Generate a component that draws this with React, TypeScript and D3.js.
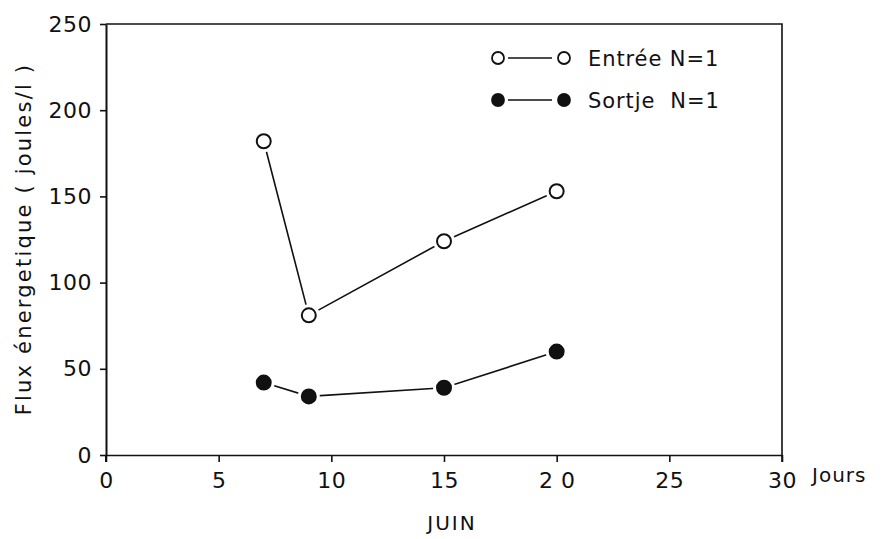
import React, { useEffect, useRef } from 'react';
import * as d3 from 'd3';

// Jours (juin)
const days = [7, 9, 15, 20];
// Flux énergétique (joules/l)
const entree = [182, 81, 124, 153];
const sortie = [42, 34, 39, 60];

const xTicks = [0, 5, 10, 15, 20, 25, 30];
const xTickLabels = ['0', '5', '10', '15', '2 0', '25', '30'];
const yTicks = [0, 50, 100, 150, 200, 250];

const legendItems = [
  { label: 'Entrée N=1', filled: false },
  { label: 'Sortje  N=1', filled: true },
];

export default function App() {
  const svgRef = useRef<SVGSVGElement>(null);
  const width = 882;
  const height = 539;
  const margin = { top: 24, right: 100, bottom: 84, left: 106 };

  useEffect(() => {
    if (!svgRef.current) return;
    const svg = d3.select(svgRef.current);
    svg.selectAll('*').remove();

    const innerWidth = width - margin.left - margin.right;
    const innerHeight = height - margin.top - margin.bottom;
    const font = '"DejaVu Sans", Verdana, sans-serif';

    const g = svg.append('g').attr('transform', `translate(${margin.left}, ${margin.top})`);

    const xScale = d3.scaleLinear().domain([0, 30]).range([0, innerWidth]);
    const yScale = d3.scaleLinear().domain([0, 250]).range([innerHeight, 0]);

    // frame (top + right)
    g.append('path')
      .attr('d', `M0,0H${innerWidth}V${innerHeight + 7}`)
      .attr('fill', 'none')
      .attr('stroke', '#111')
      .attr('stroke-width', 1.6);

    // X axis
    const xAxis = g.append('g')
      .attr('transform', `translate(0, ${innerHeight})`)
      .call(d3.axisBottom(xScale).tickValues(xTicks).tickSize(7).tickSizeOuter(0)
        .tickFormat((d, i) => xTickLabels[i]));
    xAxis.select('.domain').attr('stroke', '#111').attr('stroke-width', 1.6);
    xAxis.selectAll('.tick line').attr('stroke', '#111').attr('stroke-width', 1.6);
    xAxis.selectAll('text')
      .attr('y', 17)
      .attr('fill', '#111')
      .style('font-family', font)
      .style('font-size', '22px')
      .style('letter-spacing', '0.5px');

    // Y axis
    const yAxis = g.append('g')
      .call(d3.axisLeft(yScale).tickValues(yTicks).tickSize(6).tickSizeOuter(0));
    yAxis.select('.domain').attr('stroke', '#111').attr('stroke-width', 2);
    yAxis.selectAll('.tick line').attr('stroke', '#111').attr('stroke-width', 1.6);
    yAxis.selectAll('text')
      .attr('x', -14)
      .attr('fill', '#111')
      .style('font-family', font)
      .style('font-size', '22px')
      .style('letter-spacing', '0.5px');
    // small extension of the left axis below zero
    g.append('line')
      .attr('x1', 0).attr('x2', 0)
      .attr('y1', innerHeight).attr('y2', innerHeight + 7)
      .attr('stroke', '#111').attr('stroke-width', 2);

    // axis titles
    svg.append('text')
      .attr('transform', `translate(31, 239) rotate(-90)`)
      .attr('text-anchor', 'middle')
      .attr('fill', '#111')
      .style('font-family', font)
      .style('font-size', '21px')
      .style('letter-spacing', '2.2px')
      .text('Flux énergetique ( joules/l )');

    svg.append('text')
      .attr('x', 812)
      .attr('y', margin.top + innerHeight + 27)
      .attr('fill', '#111')
      .style('font-family', font)
      .style('font-size', '20px')
      .style('letter-spacing', '1px')
      .text('Jours');

    svg.append('text')
      .attr('x', 452)
      .attr('y', 530)
      .attr('text-anchor', 'middle')
      .attr('fill', '#111')
      .style('font-family', font)
      .style('font-size', '20px')
      .style('letter-spacing', '2px')
      .text('JUIN');

    const line = d3.line<number>()
      .x((d, i) => xScale(days[i]))
      .y(d => yScale(d));

    const drawSeries = (values: number[], filled: boolean) => {
      g.append('path')
        .datum(values)
        .attr('fill', 'none')
        .attr('stroke', '#111')
        .attr('stroke-width', 1.6)
        .attr('d', line);
      // white halo to leave small gaps between line and marker
      g.selectAll(null)
        .data(values)
        .enter().append('circle')
        .attr('cx', (d, i) => xScale(days[i]))
        .attr('cy', d => yScale(d))
        .attr('r', 11)
        .attr('fill', '#fff');
      g.selectAll(null)
        .data(values)
        .enter().append('circle')
        .attr('cx', (d, i) => xScale(days[i]))
        .attr('cy', d => yScale(d))
        .attr('r', 7)
        .attr('fill', filled ? '#111' : '#fff')
        .attr('stroke', '#111')
        .attr('stroke-width', 2);
    };

    drawSeries(entree, false);
    drawSeries(sortie, true);

    // legend
    const legend = svg.append('g').attr('transform', 'translate(498, 58)');
    const rows = legend.selectAll('g')
      .data(legendItems)
      .enter().append('g')
      .attr('transform', (d, i) => `translate(0, ${i * 42})`);
    rows.append('line')
      .attr('x1', 10).attr('x2', 54)
      .attr('y1', 0).attr('y2', 0)
      .attr('stroke', '#111').attr('stroke-width', 1.6);
    rows.append('circle')
      .attr('cx', 0).attr('cy', 0).attr('r', 6)
      .attr('fill', d => (d.filled ? '#111' : '#fff'))
      .attr('stroke', '#111').attr('stroke-width', 1.8);
    rows.append('circle')
      .attr('cx', 66).attr('cy', 0).attr('r', 6)
      .attr('fill', d => (d.filled ? '#111' : '#fff'))
      .attr('stroke', '#111').attr('stroke-width', 1.8);
    rows.append('text')
      .attr('x', 90)
      .attr('y', 8)
      .attr('fill', '#111')
      .style('font-family', font)
      .style('font-size', '21px')
      .style('letter-spacing', '0.9px')
      .style('white-space', 'pre')
      .text(d => d.label);
  }, []);

  return (
    <svg
      ref={svgRef}
      width={width}
      height={height}
      viewBox={`0 0 ${width} ${height}`}
      style={{ position: 'absolute', left: 0, top: 0, background: '#fff' }}
    />
  );
}
